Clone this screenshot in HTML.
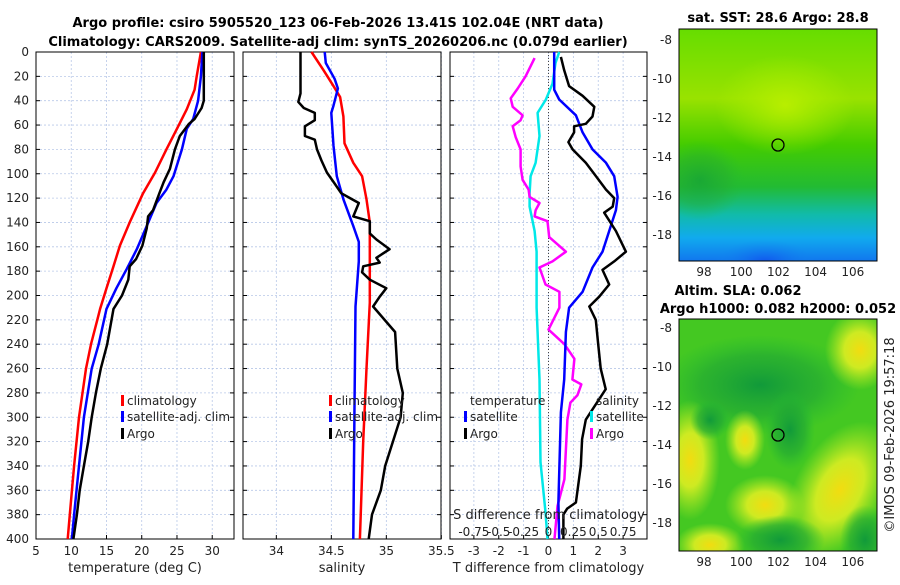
<!DOCTYPE html>
<html><head><meta charset="utf-8"><style>
body{margin:0;background:#fff;width:900px;height:580px;overflow:hidden}
svg{font-family:"DejaVu Sans","Liberation Sans",sans-serif}
</style></head><body>
<svg id="c" width="900" height="580" viewBox="0 0 900 580" xmlns="http://www.w3.org/2000/svg">
<defs>
<linearGradient id="g1" x1="0" y1="0" x2="0" y2="1">
<stop offset="0" stop-color="#66dd00"/><stop offset="0.3" stop-color="#99e200"/><stop offset="0.5" stop-color="#44cc00"/><stop offset="0.68" stop-color="#22bb33"/><stop offset="0.8" stop-color="#11bbaa"/><stop offset="0.9" stop-color="#11aaee"/><stop offset="1" stop-color="#1177ee"/></linearGradient>
<radialGradient id="yb"><stop offset="0" stop-color="#f2dc10"/><stop offset="0.45" stop-color="#ddee22" stop-opacity="0.9"/><stop offset="1" stop-color="#bbee22" stop-opacity="0"/></radialGradient>
<radialGradient id="gb"><stop offset="0" stop-color="#119a3a"/><stop offset="0.6" stop-color="#22aa33" stop-opacity="0.7"/><stop offset="1" stop-color="#22bb33" stop-opacity="0"/></radialGradient>
<radialGradient id="lb"><stop offset="0" stop-color="#b8ee00"/><stop offset="1" stop-color="#aaee00" stop-opacity="0"/></radialGradient>
<radialGradient id="bb"><stop offset="0" stop-color="#1155ee"/><stop offset="1" stop-color="#1188ee" stop-opacity="0"/></radialGradient>
<clipPath id="m1c"><rect x="679" y="29" width="198" height="232"/></clipPath>
<clipPath id="m2c"><rect x="679" y="319" width="198" height="232"/></clipPath>
</defs>
<text x="338" y="27" text-anchor="middle" font-size="13" font-weight="bold">Argo profile: csiro 5905520_123 06-Feb-2026 13.41S 102.04E (NRT data)</text>
<text x="338" y="46" text-anchor="middle" font-size="13" font-weight="bold">Climatology: CARS2009. Satellite-adj clim: synTS_20260206.nc (0.079d earlier)</text>
<g id="plots"></g>
<g clip-path="url(#m1c)">
<rect x="679" y="29" width="198" height="232" fill="url(#g1)"/>
<ellipse cx="785" cy="105" rx="70" ry="50" fill="url(#lb)"/>
<ellipse cx="700" cy="180" rx="45" ry="40" fill="url(#gb)" opacity="0.6"/>
<ellipse cx="765" cy="262" rx="50" ry="22" fill="url(#bb)"/>
</g>
<rect x="679" y="29" width="198" height="232" fill="none" stroke="#000"/>
<circle cx="778" cy="145" r="6" fill="none" stroke="#000" stroke-width="1.3"/>
<text x="778" y="22" text-anchor="middle" font-size="13" font-weight="bold">sat. SST: 28.6 Argo: 28.8</text>
<g clip-path="url(#m2c)">
<rect x="679" y="319" width="198" height="232" fill="#44c822"/>
<ellipse cx="760" cy="385" rx="100" ry="50" fill="url(#gb)"/>
<ellipse cx="790" cy="430" rx="25" ry="40" fill="url(#gb)"/>
<ellipse cx="860" cy="350" rx="35" ry="40" fill="url(#yb)"/>
<ellipse cx="840" cy="490" rx="45" ry="75" fill="url(#yb)" transform="rotate(30 840 490)"/>
<ellipse cx="765" cy="505" rx="40" ry="30" fill="url(#yb)"/>
<ellipse cx="690" cy="460" rx="30" ry="60" fill="url(#yb)"/>
<ellipse cx="745" cy="440" rx="20" ry="30" fill="url(#yb)"/>
<ellipse cx="710" cy="545" rx="35" ry="22" fill="url(#yb)"/>
<ellipse cx="780" cy="540" rx="45" ry="25" fill="url(#gb)"/>
<ellipse cx="865" cy="540" rx="25" ry="35" fill="url(#gb)"/>
<ellipse cx="710" cy="420" rx="20" ry="20" fill="url(#gb)"/>
</g>
<rect x="679" y="319" width="198" height="232" fill="none" stroke="#000"/>
<circle cx="778" cy="435" r="6" fill="none" stroke="#000" stroke-width="1.3"/>
<text x="738" y="295" text-anchor="middle" font-size="13" font-weight="bold">Altim. SLA: 0.062</text>
<text x="778" y="313" text-anchor="middle" font-size="13" font-weight="bold">Argo h1000: 0.082 h2000: 0.052</text>
<text transform="translate(894 435) rotate(-90)" text-anchor="middle" font-size="13" fill="#222">©IMOS 09-Feb-2026 19:57:18</text>
</svg>
<script>
const tClimPres=[0,20,31,47,63,80,99,116,140,159,176,194,211,220,240,260,300,340,380,400];
const tClim=[28.4,27.8,27.5,26.4,25,23.5,21.9,20.2,18.3,16.9,16,15,14.1,13.7,12.8,12.1,11.1,10.4,9.8,9.5];
const tSatPres=[0,20,40,55,63,80,102,113,124,143,162,178,194,211,240,260,300,340,380,400];
const tSat=[28.6,28.4,28,27.3,26.4,25.7,24.5,23.5,22.1,20.7,19.3,17.9,16.4,15,13.9,12.9,11.8,11.1,10.4,10.1];
const tArgoPres=[0,40,46,55,59,69,80,96,107,116,130,135,145,159,170,176,187,200,211,240,260,280,300,320,340,360,380,400];
const tArgo=[28.8,28.8,28.5,27.5,26.7,25.4,24.7,24,23.1,22.5,21.6,20.9,20.7,20.1,19.2,18.3,18.1,17.2,16,15.1,14.2,13.5,12.9,12.4,11.8,11.2,10.8,10.3];
const sArgoPres=[0,34,41,46,50,56,61,69,72,80,89,99,108,116,120,124,135,139,149,154,162,169,173,176,181,187,194,201,209,230,260,280,300,320,340,360,380,400];
const sArgo=[34.22,34.22,34.2,34.25,34.35,34.35,34.26,34.26,34.35,34.37,34.41,34.46,34.53,34.59,34.67,34.75,34.7,34.85,34.85,34.91,35.03,34.91,34.94,34.79,34.78,34.85,35,34.94,34.88,35.08,35.1,35.15,35.13,35.06,34.99,34.95,34.87,34.84];
const sClimPres=[0,15,28,37,53,75,91,102,121,140,176,206,260,320,400];
const sClim=[34.32,34.43,34.52,34.58,34.61,34.62,34.7,34.78,34.82,34.85,34.85,34.85,34.82,34.79,34.76];
const sSatPres=[0,9,22,30,44,50,77,102,121,143,156,172,209,300,400];
const sSat=[34.44,34.45,34.53,34.56,34.52,34.5,34.52,34.55,34.61,34.7,34.75,34.75,34.72,34.71,34.7];
const dtSatPres=[0,31,39,52,66,80,91,102,119,130,147,164,177,197,210,230,269,296,370,400];
const dtSat=[0.23,0.23,0.43,1.1,1.37,1.77,2.31,2.64,2.78,2.71,2.44,2.17,1.77,1.37,0.83,0.7,0.63,0.5,0.4,0.43];
const dtArgoPres=[4,15,28,36,45,53,59,61,66,74,80,91,102,113,120,127,132,147,164,172,179,191,201,209,220,240,260,277,302,318,340,370,375,380,400];
const dtArgo=[0.5,0.63,0.83,1.37,1.84,1.77,1.5,1.03,1.03,0.8,0.97,1.5,1.91,2.31,2.64,2.58,2.24,2.71,3.11,2.64,2.17,2.44,2.04,1.64,1.9,2,2.1,2.3,1.5,1.35,1.3,1.1,0.75,0.6,0.6];
const dsSatPres=[0,9,26,39,50,69,91,102,116,127,147,164,210,269,337,378,400];
const dsSat=[0.108,0.07,0.04,-0.026,-0.11,-0.09,-0.13,-0.18,-0.19,-0.19,-0.14,-0.12,-0.12,-0.09,-0.08,-0.03,-0.01];
const dsArgoPres=[5,20,30,38,45,52,56,61,70,80,94,105,113,119,124,130,135,139,152,164,172,177,191,197,210,228,240,252,269,273,282,288,302,351,373,400];
const dsArgo=[-0.14,-0.23,-0.31,-0.38,-0.36,-0.26,-0.28,-0.36,-0.33,-0.28,-0.28,-0.26,-0.2,-0.19,-0.09,-0.13,-0.14,-0.01,0.007,0.175,0.04,-0.09,-0.03,0.11,0.11,0,0.16,0.26,0.24,0.33,0.29,0.22,0.19,0.16,0.09,0.06];
const yTicks=[0,20,40,60,80,100,120,140,160,180,200,220,240,260,280,300,320,340,360,380,400];
const tTicks=[5,10,15,20,25,30];
const sTicks=[34,34.5,35,35.5];
const dTicks=[-3,-2,-1,0,1,2,3];
const dsTicks=['-0.75','-0.5','-0.25','0','0.25','0.5','0.75'];
const mapLon=[98,100,102,104,106];
const mapLat=[-8,-10,-12,-14,-16,-18];

const NS='http://www.w3.org/2000/svg';
const root=document.getElementById('plots');
const Y0=52,Y1=539;
const yS=p=>Y0+(p/400)*(Y1-Y0);
function mk(tag,attrs,parent,text){const e=document.createElementNS(NS,tag);for(const k in attrs)e.setAttribute(k,attrs[k]);if(text!==undefined)e.textContent=text;(parent||root).appendChild(e);return e;}
const panels=[
 {x0:36,x1:234,lo:5,hi:33.09,ticks:tTicks,label:'temperature (deg C)',name:'temperature'},
 {x0:243,x1:441,lo:33.697,hi:35.497,ticks:sTicks,label:'salinity',name:'salinity'},
 {x0:450,x1:647,lo:-3.96,hi:3.96,ticks:dTicks,label:'T difference from climatology',name:'difference'}];
panels.forEach((P,i)=>{
 P.x=v=>P.x0+(v-P.lo)/(P.hi-P.lo)*(P.x1-P.x0);
 const g=mk('g',{});
 
 
 P.g=g;
 yTicks.forEach(p=>{const l=mk('line',{x1:P.x0,x2:P.x1,y1:yS(p),y2:yS(p),stroke:'#b8c8e8','stroke-width':0.8,'stroke-dasharray':'2 2'},g);
  
  mk('line',{x1:P.x0,x2:P.x0+4,y1:yS(p),y2:yS(p),stroke:'#000'},g);mk('line',{x1:P.x1-4,x2:P.x1,y1:yS(p),y2:yS(p),stroke:'#000'},g);});
 P.ticks.forEach(t=>{const xx=P.x(t);
  const l=mk('line',{x1:xx,x2:xx,y1:Y0,y2:Y1,stroke:'#b8c8e8','stroke-width':0.8,'stroke-dasharray':'2 2'},g);
  
  mk('line',{x1:xx,x2:xx,y1:Y1,y2:Y1-4,stroke:'#000'},g);
  const tx=mk('text',{x:xx,y:555,'text-anchor':'middle','font-size':12,fill:'#222'},g,String(t));
  });
 const lb=mk('text',{x:(P.x0+P.x1)/2,y:572,'text-anchor':'middle','font-size':13,fill:'#222'},g,P.label);
 
 mk('rect',{x:P.x0,y:Y0,width:P.x1-P.x0,height:Y1-Y0,fill:'none',stroke:'#000'},g);
});
yTicks.forEach(p=>{const t=mk('text',{x:29,y:yS(p)+4,'text-anchor':'end','font-size':12,fill:'#222'},root,String(p));
 });
function line(P,ps,vs,col,name,xf){const f=xf||P.x;const d=ps.map((p,i)=>(i?'L':'M')+f(vs[i]).toFixed(1)+' '+yS(p).toFixed(1)).join('');
 const e=mk('path',{d:d,fill:'none',stroke:col,'stroke-width':2.5,'stroke-linejoin':'round'},P.g);
 }
const [P1,P2,P3]=panels;
line(P1,tClimPres,tClim,'#ff0000','temp-climatology-line');
line(P1,tSatPres,tSat,'#0000ff','temp-satellite-line');
line(P1,tArgoPres,tArgo,'#000','temp-argo-line');
line(P2,sClimPres,sClim,'#ff0000','sal-climatology-line');
line(P2,sSatPres,sSat,'#0000ff','sal-satellite-line');
line(P2,sArgoPres,sArgo,'#000','sal-argo-line');
mk('line',{x1:P3.x(0),x2:P3.x(0),y1:Y0,y2:Y1,stroke:'#444','stroke-dasharray':'1 2'},P3.g);
const xs=v=>P3.x0+(v+0.99)/1.98*(P3.x1-P3.x0);
line(P3,dsSatPres,dsSat,'#00e8e8','sdiff-satellite-line',xs);
line(P3,dsArgoPres,dsArgo,'#ff00ff','sdiff-argo-line',xs);
line(P3,dtSatPres,dtSat,'#0000ff','tdiff-satellite-line');
line(P3,dtArgoPres,dtArgo,'#000','tdiff-argo-line');
const t2=mk('text',{x:549,y:519,'text-anchor':'middle','font-size':13,fill:'#222'},P3.g,'S difference from climatology');

dsTicks.forEach(s=>{const t=mk('text',{x:xs(parseFloat(s)),y:536,'text-anchor':'middle','font-size':12,fill:'#222'},P3.g,s);
 });
function leg(g,x,y,col,txt){mk('rect',{x:x,y:y-10,width:3,height:11,fill:col},g);
 const t=mk('text',{x:x+6,y:y,'font-size':12,fill:'#222'},g,txt);}
[[P1,121],[P2,329]].forEach(([P,x])=>{leg(P.g,x,405,'#ff0000','climatology');leg(P.g,x,421,'#0000ff','satellite-adj. clim');leg(P.g,x,438,'#000','Argo');});
mk('text',{x:470,y:405,'font-size':12,fill:'#222'},P3.g,'temperature');
leg(P3.g,464,421,'#0000ff','satellite');leg(P3.g,464,438,'#000','Argo');
mk('text',{x:596,y:405,'font-size':12,fill:'#222'},P3.g,'salinity');
leg(P3.g,590,421,'#00e8e8','satellite');leg(P3.g,590,438,'#ff00ff','Argo');
[[29,40,39],[319,328,39]].forEach(([top,y8,dy],k)=>{
 const mx=lon=>704+(lon-98)*18.6;
 mapLon.forEach(l=>{mk('line',{x1:mx(l),x2:mx(l),y1:top+232,y2:top+228,stroke:'#000'});
  const t=mk('text',{x:mx(l),y:top+247,'text-anchor':'middle','font-size':12,fill:'#222'},root,String(l));
  });
 mapLat.forEach((l,i)=>{const yy=y8+i*dy;mk('line',{x1:679,x2:683,y1:yy,y2:yy,stroke:'#000'});mk('line',{x1:873,x2:877,y1:yy,y2:yy,stroke:'#000'});
  const t=mk('text',{x:672,y:yy+4,'text-anchor':'end','font-size':12,fill:'#222'},root,String(l));
  });
});
</script>
</body></html>
